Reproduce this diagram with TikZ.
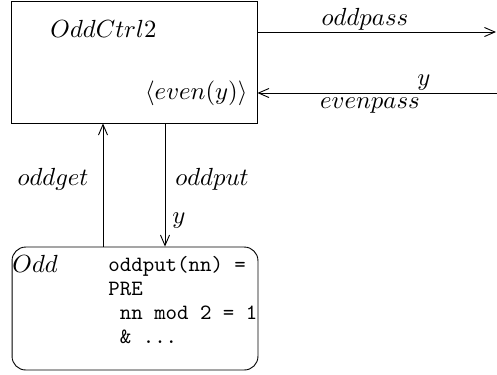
\documentclass[tikz,border=0pt]{standalone}
\usepackage{tikz}
\usetikzlibrary{arrows.meta,positioning,calc}
\tikzstyle{ctrlbox}=[rectangle, draw=black, minimum width=108.2pt,
                     minimum height=53.7pt, inner sep=0pt]
\tikzstyle{machbox}=[rectangle, draw=black, rounded corners=6pt,
                     minimum width=108.2pt, minimum height=54.1pt, inner sep=0pt]
\tikzstyle{lbl}    =[inner sep=0pt, anchor=base, scale=1.09]
\tikzstyle{code}   =[inner sep=0pt, anchor=base west, font=\ttfamily, scale=0.96]
\tikzstyle{arr}    =[-{Straight Barb[length=4.6pt,width=4pt]}, line width=0.4pt]

\begin{document}
\begin{tikzpicture}[x=0.44pt, y=-0.44pt]
  \useasboundingbox (0,0) rectangle (497,374);

  % -- boxes -------------------------------------------------------------------
  \node[ctrlbox] (ctrl) at (134, 62)    {};
  \node[machbox] (odd)  at (135, 308.5) {};

  % -- box texts ---------------------------------------------------------------
  \node[lbl, anchor=base west] (ctrlname) at (50, 37)  {$OddCtrl2$};
  \node[lbl, anchor=base east] (guard)    at (248, 99) {$\langle even(y)\rangle$};
  \node[lbl, anchor=base west] (oddname)  at (12, 272) {$Odd$};
  \node[code] (code1) at (108, 271) {oddput(nn) =};
  \node[code] (code2) at (108, 295) {PRE};
  \node[code] (code3) at (108, 319) {\ nn mod 2 = 1};
  \node[code] (code4) at (108, 343) {\ \& ...};

  % -- channels to the right ---------------------------------------------------
  \coordinate (passout) at (496, 32);
  \coordinate (passin)  at (497, 93);
  \draw[arr] (ctrl.east |- passout) -- (passout);
  \draw[arr] (passin) -- (ctrl.east |- passin);
  \node[lbl] (oddpass)  at (365, 25)  {$oddpass$};
  \node[lbl] (evy)      at (424, 85)  {$y$};
  \node[lbl] (evenpass) at (370, 108) {$evenpass$};

  % -- channels between the boxes ----------------------------------------------
  \coordinate (getx) at (103, 0);
  \coordinate (putx) at (165, 0);
  \draw[arr] (getx |- odd.north) -- (getx |- ctrl.south);
  \draw[arr] (putx |- ctrl.south) -- (putx |- odd.north);
  \node[lbl] (oddget) at (53, 185)  {$oddget$};
  \node[lbl] (oddput) at (212, 185) {$oddput$};
  \node[lbl] (puty)   at (179, 223) {$y$};

\end{tikzpicture}
\end{document}
